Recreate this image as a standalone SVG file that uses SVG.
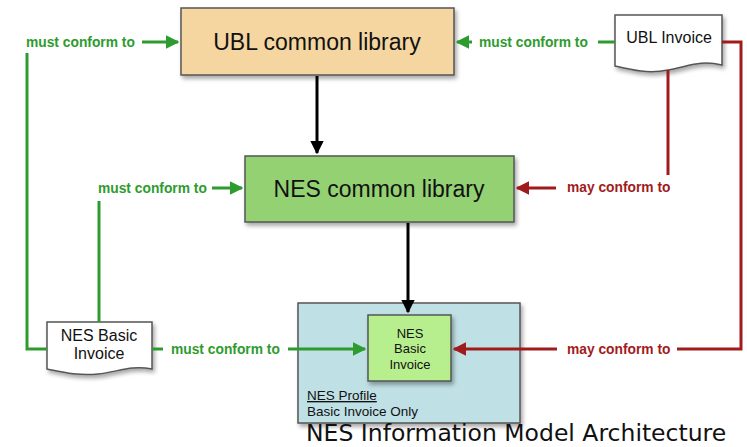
<svg xmlns="http://www.w3.org/2000/svg" width="747" height="447" viewBox="0 0 747 447">
<defs>
<filter id="sh" x="-10%" y="-10%" width="130%" height="130%"><feDropShadow dx="2" dy="3" stdDeviation="2" flood-color="#000" flood-opacity="0.35"/></filter>
<marker id="ag" viewBox="0 0 10 10" refX="9" refY="5" markerWidth="4.5" markerHeight="4.5" orient="auto" markerUnits="strokeWidth"><path d="M0,0 L10,5 L0,10 z" fill="#2e9b2e"/></marker>
<marker id="ar" viewBox="0 0 10 10" refX="9" refY="5" markerWidth="4.5" markerHeight="4.5" orient="auto" markerUnits="strokeWidth"><path d="M0,0 L10,5 L0,10 z" fill="#a01c1c"/></marker>
<marker id="ak" viewBox="0 0 10 10" refX="9" refY="5" markerWidth="4.5" markerHeight="4.5" orient="auto" markerUnits="strokeWidth"><path d="M0,0 L10,5 L0,10 z" fill="#000"/></marker>
</defs>
<style>
.g{stroke:#2e9b2e;stroke-width:3;fill:none}
.r{stroke:#a01c1c;stroke-width:3;fill:none}
.k{stroke:#000;stroke-width:3;fill:none}
.lg{font-family:"Liberation Sans",Arial,sans-serif;font-weight:bold;font-size:13.8px;fill:#2e9b2e}
.lr{font-family:"Liberation Sans",Arial,sans-serif;font-weight:bold;font-size:13.8px;fill:#a01c1c}
.t{font-family:"Liberation Sans",Arial,sans-serif;fill:#111}
.box{stroke:#555;stroke-width:1.5}
</style>
<rect width="747" height="447" fill="#fff"/>
<g id="ubl-common-library">
<rect class="box" x="181" y="8" width="273" height="67" fill="#f5d5a0" filter="url(#sh)"/>
<text class="t" x="317" y="50" font-size="23" text-anchor="middle">UBL common library</text>
</g>
<g id="nes-common-library">
<rect class="box" x="245" y="156" width="269" height="66" fill="#93d173" filter="url(#sh)"/>
<text class="t" x="379" y="197" font-size="23" text-anchor="middle">NES common library</text>
</g>
<g id="ubl-invoice">
<path class="box" d="M615,15 H722 V65 C700,60 690,66 668,70 C648,74 632,70 615,66 Z" fill="#fff" filter="url(#sh)"/>
<text class="t" x="669" y="43" font-size="16" text-anchor="middle">UBL Invoice</text>
</g>
<g id="nes-basic-invoice-doc">
<path class="box" d="M47,322 H152 V369 C130,365 118,372 98,374 C78,376 62,372 47,369 Z" fill="#fff" filter="url(#sh)"/>
<text class="t" x="99" y="341" font-size="16" text-anchor="middle">NES Basic</text>
<text class="t" x="99" y="359" font-size="16" text-anchor="middle">Invoice</text>
</g>
<g id="nes-profile">
<rect class="box" x="298" y="303" width="222" height="120" fill="#bfe0e5" filter="url(#sh)"/>
<text class="t" x="307" y="400" font-size="13.5" text-decoration="underline">NES Profile</text>
<text class="t" x="307" y="416" font-size="13.5">Basic Invoice Only</text>
</g>
<g id="nes-basic-invoice">
<rect class="box" x="368" y="315" width="83" height="66" fill="#b8ef8e" filter="url(#sh)"/>
<text class="t" x="410" y="338" font-size="13" text-anchor="middle">NES</text>
<text class="t" x="410" y="353" font-size="13" text-anchor="middle">Basic</text>
<text class="t" x="410" y="369" font-size="13" text-anchor="middle">Invoice</text>
</g>
<g id="connectors">
<path class="g" d="M142,42 H178" marker-end="url(#ag)"/>
<path class="g" d="M27,53 V349 H47"/>
<path class="g" d="M615,42 H598"/>
<path class="g" d="M472,42 H457" marker-end="url(#ag)"/>
<path class="g" d="M212,188 H242" marker-end="url(#ag)"/>
<path class="g" d="M99,201 V322"/>
<path class="g" d="M152,349 H163"/>
<path class="g" d="M288,349 H365" marker-end="url(#ag)"/>
<path class="r" d="M722,42 H741 V349 H677"/>
<path class="r" d="M668,70 V175"/>
<path class="r" d="M556,188 H517" marker-end="url(#ar)"/>
<path class="r" d="M557,349 H454" marker-end="url(#ar)"/>
<path class="k" d="M317,76 V153" marker-end="url(#ak)"/>
<path class="k" d="M408,223 V312" marker-end="url(#ak)"/>
</g>
<g id="labels">
<text class="lg" x="26" y="47">must conform to</text>
<text class="lg" x="479" y="47">must conform to</text>
<text class="lg" x="98" y="193">must conform to</text>
<text class="lg" x="171" y="354">must conform to</text>
<text class="lr" x="567" y="192">may conform to</text>
<text class="lr" x="567" y="354">may conform to</text>
</g>
<text x="306" y="441" font-family="DejaVu Sans,Verdana,sans-serif" font-size="23.5" fill="#111">NES Information Model Architecture</text>
</svg>
